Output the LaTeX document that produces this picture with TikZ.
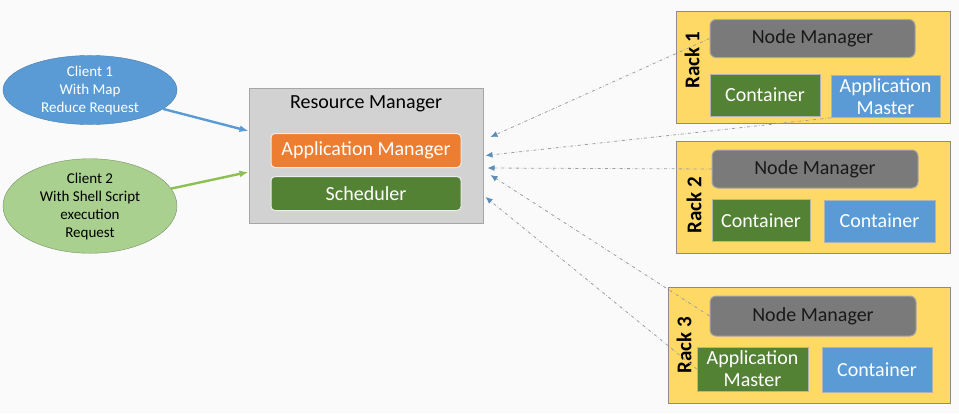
\documentclass[tikz,border=0pt]{standalone}
\usepackage{fontspec}
\setmainfont{Carlito}
\usetikzlibrary{arrows.meta,positioning,calc,shapes.geometric}
\definecolor{PageWhite}{HTML}{FAFAFA}
\definecolor{ClientBlue}{HTML}{5B9BD5}
\definecolor{ClientGreen}{HTML}{A9D08E}
\definecolor{BoxGreen}{HTML}{548235}
\definecolor{BoxBlue}{HTML}{5B9BD5}
\definecolor{BoxOrange}{HTML}{ED7D31}
\definecolor{RackYellow}{HTML}{FFD966}
\definecolor{NodeGray}{HTML}{7A7A7A}
\definecolor{FrameGray}{HTML}{8C8C8C}
\definecolor{LinkGray}{HTML}{9A9FA4}
\definecolor{TipBlue}{HTML}{5B8DB8}
\definecolor{ArrowGreen}{HTML}{8CC152}

\begin{document}
\begin{tikzpicture}[x=1pt,y=-1pt,
  every node/.style={align=center,inner sep=0pt},
  client/.style={ellipse,minimum width=174pt,minimum height=66pt,
    font=\fontsize{15}{18}\selectfont},
  rack/.style={draw=FrameGray,line width=1pt,fill=RackYellow},
  nodemgr/.style={draw=gray!70,line width=1pt,fill=NodeGray,rounded corners=6pt,
    minimum width=205pt,minimum height=38pt,text=black!90,font=\fontsize{20}{22}\selectfont},
  cbox/.style={draw=gray!60,line width=0.6pt,minimum width=110pt,minimum height=42pt,
    text=white,font=\fontsize{20}{22}\selectfont},
  inner/.style={draw=white!85!gray,line width=1pt,rounded corners=4pt,
    minimum width=190pt,minimum height=34pt,text=white,font=\fontsize{20}{22}\selectfont},
  racklabel/.style={rotate=90,font=\fontsize{21}{23}\selectfont\bfseries},
  request/.style={-{Latex[length=9pt,width=7pt]},line width=2.4pt},
  report/.style={dash dot,draw=LinkGray,line width=0.8pt,
    -{Latex[length=7pt,width=6pt,color=TipBlue]}}]

  \fill[PageWhite] (0,0) rectangle (959,413);
  \useasboundingbox (0,0) rectangle (959,413);

  % clients
  \node[client,fill=ClientBlue,draw=ClientBlue!80!black,text=white] (c1) at (90,90)
    {Client 1\\With Map\\Reduce Request};
  \node[client,fill=ClientGreen,draw=ClientGreen!70!black,minimum height=72pt] (c2) at (90,206)
    {Client 2\\With Shell Script\\execution\\Request};

  % resource manager
  \node[draw=gray!70,line width=1pt,fill=gray!35,minimum width=234pt,minimum height=135pt] (rm) at (366,155.5) {};
  \node[font=\fontsize{20}{22}\selectfont] (rmt) at (366,104) {Resource Manager};
  \node[inner,fill=BoxOrange] (am) at (366,150.5) {Application Manager};
  \node[inner,fill=BoxGreen] (sch) at (366,193.5) {Scheduler};

  % rack 1
  \draw[rack] (676,11) rectangle (950,123);
  \node[racklabel] (r1) at (692,60) {Rack 1};
  \node[nodemgr] (nm1) at (812.5,38.5) {Node Manager};
  \node[cbox,fill=BoxGreen] (ct1) at (765,95) {Container};
  \node[cbox,fill=BoxBlue,minimum width=109pt] (am1) at (885.5,96.5) {Application\\Master};

  % rack 2
  \draw[rack] (676,141) rectangle (950,253);
  \node[racklabel] (r2) at (694,205) {Rack 2};
  \node[nodemgr,minimum width=206pt] (nm2) at (815,169) {Node Manager};
  \node[cbox,fill=BoxGreen,minimum width=98pt] (ct2) at (761,220.5) {Container};
  \node[cbox,fill=BoxBlue,minimum width=111pt] (ct3) at (879.5,221) {Container};

  % rack 3
  \draw[rack] (668,287) rectangle (950,403);
  \node[racklabel] (r3) at (684,345) {Rack 3};
  \node[nodemgr,minimum width=206pt,minimum height=40pt] (nm3) at (813,316) {Node Manager};
  \node[cbox,fill=BoxGreen,minimum width=111pt,minimum height=44pt] (am3) at (752.5,369) {Application\\Master};
  \node[cbox,fill=BoxBlue,minimum width=110pt,minimum height=45pt] (ct4) at (877,369.5) {Container};

  % requests
  \draw[request,draw=ClientBlue] (c1) -- ([yshift=24.5pt]rm.west);
  \draw[request,draw=ArrowGreen] (c2) -- ([yshift=-16.5pt]rm.west);

  % heartbeats
  \draw[report] (nm1.west) -- ([xshift=7pt,yshift=18.5pt]rm.east);
  \draw[report] (am1.south west) -- ([xshift=2pt]rm.east);
  \draw[report] (nm2.west) -- ([xshift=4pt,yshift=-12.5pt]rm.east);
  \draw[report] (nm3.west) -- ([xshift=7pt,yshift=-19.5pt]rm.east);
  \draw[report] (am3.west) -- ([xshift=2pt,yshift=-41.5pt]rm.east);
\end{tikzpicture}
\end{document}
